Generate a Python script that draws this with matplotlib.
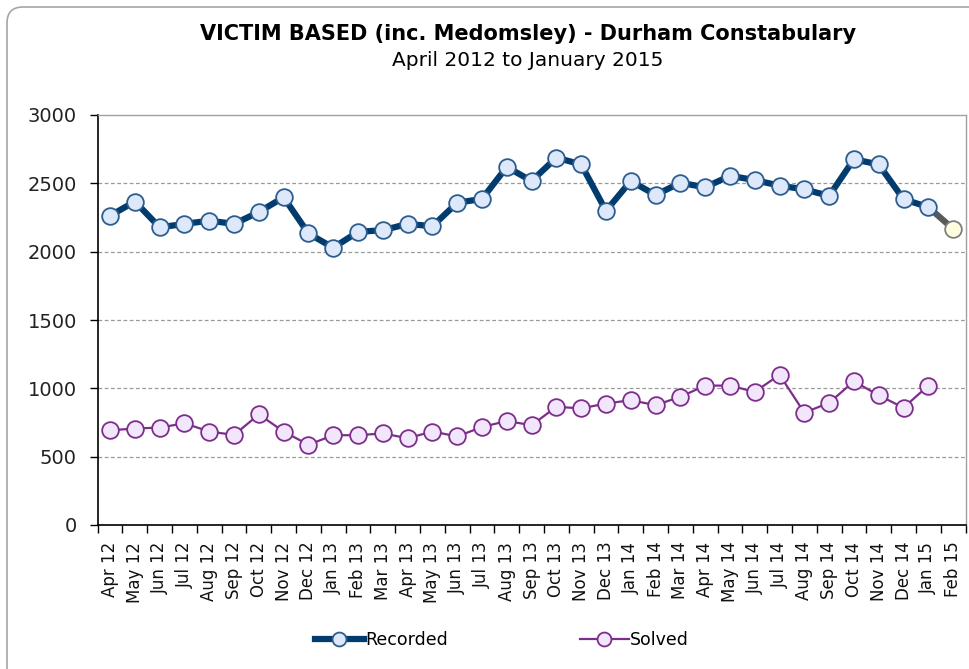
import matplotlib
matplotlib.use("Agg")
import matplotlib.pyplot as plt
from matplotlib.patches import FancyBboxPatch
from matplotlib.lines import Line2D
import numpy as np

months = ["Apr 12", "May 12", "Jun 12", "Jul 12", "Aug 12", "Sep 12", "Oct 12", "Nov 12",
          "Dec 12", "Jan 13", "Feb 13", "Mar 13", "Apr 13", "May 13", "Jun 13", "Jul 13",
          "Aug 13", "Sep 13", "Oct 13", "Nov 13", "Dec 13", "Jan 14", "Feb 14", "Mar 14",
          "Apr 14", "May 14", "Jun 14", "Jul 14", "Aug 14", "Sep 14", "Oct 14", "Nov 14",
          "Dec 14", "Jan 15", "Feb 15"]

recorded = [2263, 2367, 2178, 2203, 2227, 2203, 2290, 2398, 2133, 2029, 2145, 2157,
            2203, 2186, 2358, 2386, 2620, 2517, 2688, 2638, 2299, 2517, 2415, 2504,
            2471, 2555, 2524, 2483, 2456, 2408, 2676, 2638, 2384, 2326]
recorded_projection = 2167  # Feb 15

solved = [693, 706, 713, 744, 684, 659, 809, 684, 587, 657, 657, 670,
          635, 684, 648, 717, 761, 730, 865, 853, 889, 913, 877, 938,
          1020, 1020, 974, 1099, 822, 894, 1051, 949, 858, 1020]

yticks = [0, 500, 1000, 1500, 2000, 2500, 3000]

title = "VICTIM BASED (inc. Medomsley) - Durham Constabulary"
subtitle = "April 2012 to January 2015"

plt.rcParams['font.family'] = ['DejaVu Sans']

fig = plt.figure(figsize=(9.70, 6.69), dpi=100)
W, H = 970, 669

# outer rounded border (pixel coordinates)
border = FancyBboxPatch((7, -60), 1100, (H - 7) + 60, boxstyle="round,pad=0,rounding_size=16",
                        transform=None, facecolor="none", edgecolor="#a6a6a6",
                        linewidth=1.2, zorder=0)
fig.patches.append(border)

ax = fig.add_axes([97.7 / W, (H - 525) / H, (965.5 - 97.7) / W, (525 - 115) / H])

x = np.arange(len(months))
n_rec = len(recorded)

# projection segment
ax.plot([x[n_rec - 1], x[n_rec]], [recorded[-1], recorded_projection], color="#595959",
        linewidth=4.5, solid_capstyle="butt", zorder=3)
ax.plot([x[n_rec]], [recorded_projection], marker="o", markersize=12,
        markerfacecolor="#ffffe0", markeredgecolor="#7f7f7f", markeredgewidth=1.3,
        linestyle="none", zorder=5)

ax.plot(x[:n_rec], recorded, color="#023c6e", linewidth=4.5, marker="o", markersize=12,
        markerfacecolor="#dde9fb", markeredgecolor="#2c5d8f", markeredgewidth=1.3, zorder=4)

ax.plot(x[:len(solved)], solved, color="#7d2e8a", linewidth=1.6, marker="o", markersize=12,
        markerfacecolor="#f1e6fc", markeredgecolor="#7d2e8a", markeredgewidth=1.3, zorder=4)

ax.set_xlim(-0.5, len(months) - 0.5)
ax.set_ylim(0, 3000)
ax.set_yticks(yticks)
ax.set_yticklabels([str(v) for v in yticks], fontsize=14, color="#222222")
ax.set_xticks(x)
ax.set_xticklabels(months, rotation=90, fontsize=12, color="#111111")
ax.set_xticks(np.arange(-0.5, len(months), 1.0), minor=True)
ax.tick_params(axis="x", which="major", length=0, pad=12)
ax.tick_params(axis="x", which="minor", length=6, width=1, direction="out", color="black")
ax.tick_params(axis="y", which="major", length=6, width=1, direction="out", pad=9)

for v in yticks[1:-1]:
    ax.axhline(v, color="#9a9a9a", linestyle=(0, (3, 2)), linewidth=0.9, zorder=1)

ax.spines["left"].set_color("black")
ax.spines["bottom"].set_color("black")
ax.spines["left"].set_linewidth(1.2)
ax.spines["bottom"].set_linewidth(1.2)
ax.spines["top"].set_color("#a0a0a0")
ax.spines["right"].set_color("#a0a0a0")
ax.spines["top"].set_linewidth(1.0)
ax.spines["right"].set_linewidth(1.0)

fig.text(528 / W, 1 - 34 / H, title, ha="center", va="center", fontsize=15,
         fontweight="bold", color="black")
fig.text(528 / W, 1 - 61 / H, subtitle, ha="center", va="center", fontsize=14.5,
         color="black")

h1 = Line2D([], [], color="#023c6e", linewidth=4.5, marker="o", markersize=10,
            markerfacecolor="#dde9fb", markeredgecolor="#2c5d8f", markeredgewidth=1.3)
h2 = Line2D([], [], color="#7d2e8a", linewidth=1.6, marker="o", markersize=10,
            markerfacecolor="#f1e6fc", markeredgecolor="#7d2e8a", markeredgewidth=1.3)
fig.legend([h1, h2], ["Recorded", "Solved"], loc="center left",
           bbox_to_anchor=(308 / W, 1 - 640 / H), borderaxespad=0,
           ncol=2, frameon=False, fontsize=12.5, handlelength=2.8, handletextpad=0.1,
           columnspacing=7.6)

fig.savefig("out.png", dpi=100)
